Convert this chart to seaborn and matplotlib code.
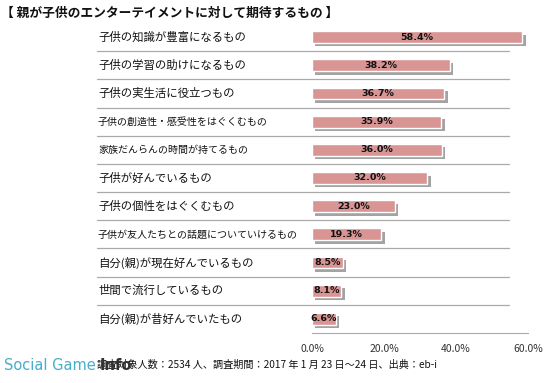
import matplotlib
matplotlib.use("Agg")
import matplotlib.pyplot as plt
import matplotlib.patheffects as pe
import matplotlib.transforms as mtransforms
import seaborn as sns
import pandas as pd

# データ
categories = [
    "子供の知識が豊富になるもの",
    "子供の学習の助けになるもの",
    "子供の実生活に役立つもの",
    "子供の創造性・感受性をはぐくむもの",
    "家族だんらんの時間が持てるもの",
    "子供が好んでいるもの",
    "子供の個性をはぐくむもの",
    "子供が友人たちとの話題についていけるもの",
    "自分(親)が現在好んでいるもの",
    "世間で流行しているもの",
    "自分(親)が昔好んでいたもの",
]
values = [58.4, 38.2, 36.7, 35.9, 36.0, 32.0, 23.0, 19.3, 8.5, 8.1, 6.6]
xticks = [0, 20, 40, 60]
title = "【 親が子供のエンターテイメントに対して期待するもの 】"
footer = "調査対象人数：2534 人、調査期間：2017 年 1 月 23 日～24 日、出典：eb-i"

small_labels = {categories[3], categories[4], categories[7]}

sns.set_theme(style="white")
plt.rcParams['font.family'] = ['Noto Sans CJK JP', 'DejaVu Sans']

W, H = 556, 383
fig = plt.figure(figsize=(W / 100, H / 100), dpi=100)
# 軸の位置（ピクセル）
x0, x1, y0, y1 = 312, 528, 23, 333
ax = fig.add_axes([x0 / W, 1 - y1 / H, (x1 - x0) / W, (y1 - y0) / H])

df = pd.DataFrame({"cat": categories, "val": values})
sns.barplot(data=df, y="cat", x="val", orient="h", color="#D99594",
            saturation=1, width=0.42, ax=ax)

for p in ax.patches:
    p.set_path_effects([pe.SimplePatchShadow(offset=(2.5, -2.5), shadow_rgbFace="#666666", alpha=0.6),
                        pe.Normal()])

ax.set_xlim(0, 60)
ax.set_ylim(len(categories) - 0.5, -0.5)
ax.set_xlabel("")
ax.set_ylabel("")
ax.set_yticks([])
ax.set_xticks(xticks)
ax.set_xticklabels([f"{t:.1f}%" for t in xticks], fontsize=7.5, color="#333333")
ax.tick_params(axis="x", direction="out", length=4, width=0.8, color="#aaaaaa", pad=4)
for s in ["top", "right", "left"]:
    ax.spines[s].set_visible(False)
ax.spines["bottom"].set_color("#aaaaaa")
ax.spines["bottom"].set_linewidth(0.8)

# 値ラベル
for i, v in enumerate(values):
    ax.text(v / 2, i, f"{v:.1f}%", ha="center", va="center", fontsize=6.8,
            fontweight="bold", color="#111111", family="DejaVu Sans")

# 区切り線とカテゴリ名
blend = mtransforms.blended_transform_factory(fig.transFigure, ax.transData)
for i in range(len(categories) - 1):
    ax.plot([97 / W, 509 / W], [i + 0.5, i + 0.5], transform=blend,
            color="#aaaaaa", lw=0.9, clip_on=False)
for i, c in enumerate(categories):
    fs = 7.2 if c in small_labels else 8.2
    ax.text(98 / W, i, c, transform=blend, ha="left", va="center",
            fontsize=fs, color="#111111")

fig.text(1 / W, 1 - 13 / H, title, ha="left", va="center", fontsize=9.2,
         fontweight="bold", color="#111111")

fig.text(97 / W, 1 - 365 / H, footer, ha="left", va="center", fontsize=7.3, color="#111111")
fig.text(4 / W, 1 - 365 / H, "Social Game", ha="left", va="center", fontsize=10.5,
         color="#45aecb", family="DejaVu Sans")
fig.text(100 / W, 1 - 365 / H, "Info", ha="left", va="center", fontsize=10.5,
         fontweight="bold", color="#333333", family="DejaVu Sans")

fig.savefig("out.png", dpi=100)
